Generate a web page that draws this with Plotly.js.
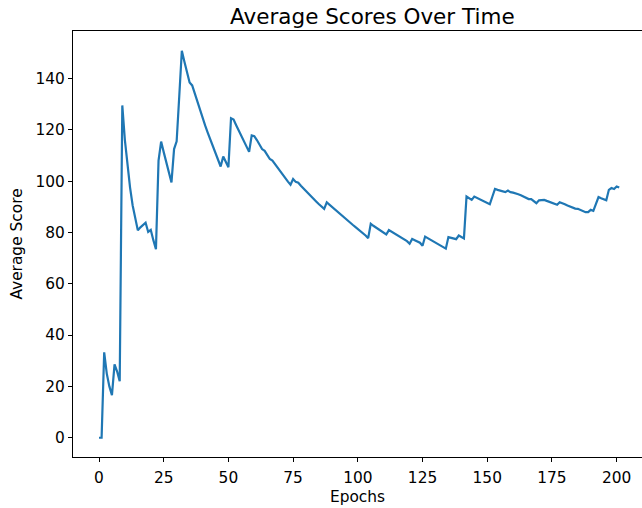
<!DOCTYPE html>
<html>
<head>
<meta charset="utf-8">
<script src="https://cdn.plot.ly/plotly-3.0.1.min.js"></script>
<style>html,body{margin:0;padding:0;background:#fff;}#chart{width:642px;height:508px;}</style>
</head>
<body>
<div id="chart"></div>
<script>
const epochs = [];
for (let i = 0; i <= 201; i++) epochs.push(i);
const scores = [
  0, 0, 33.3, 25, 20, 16.6, 28.6, 25.8, 22, 129.5,
  116, 106, 97.5, 90.5, 85, 80.8, 82, 83, 83.8, 80.2,
  81, 77, 73.5, 108, 115.4, 111.3, 107.3, 103.3, 99.5, 112.5,
  115.5, 133, 150.8, 146.5, 142.3, 138.4, 137.3, 134, 130.8, 127.6,
  124.6, 121.7, 118.9, 116.2, 113.5, 110.9, 108.3, 105.7, 109.6, 107.5,
  105.4, 124.5, 124, 121.8, 119.7, 117.6, 115.5, 113.4, 111.4, 117.8,
  117.5, 116, 114.5, 112.5, 111.8, 110.3, 108.6, 108, 106.6, 105.1,
  103.7, 102.3, 101, 99.8, 98.6, 100.8, 99.7, 99.4, 98.2, 97.1,
  96, 95, 94, 93, 92, 91, 90, 89.2, 91.7, 90.8,
  89.9, 89, 88.1, 87.2, 86.3, 85.5, 84.6, 83.8, 83, 82.2,
  81.4, 80.6, 79.8, 78.8, 77.8, 83.4, 82.6, 81.9, 81.2, 80.5,
  79.8, 79.2, 80.9, 80.3, 79.8, 79.2, 78.7, 78, 77.3, 76.6,
  75.6, 77.5, 77, 76.5, 76, 74.8, 78.4, 77.8, 77.2, 76.6,
  76.1, 75.6, 75, 74.4, 73.7, 78.2, 78, 77.8, 77.4, 78.8,
  78.3, 77.7, 94, 93.3, 92.7, 94, 93.5, 93, 92.4, 92.1,
  91.7, 91, 94, 97, 96.6, 96.3, 96, 95.7, 96.3, 95.7,
  95.5, 95.3, 94.9, 94.5, 94, 93.4, 93, 93, 92.3, 91.4,
  92.5, 92.7, 92.7, 92.3, 91.9, 91.7, 91.4, 90.8, 91.8, 91.5,
  91, 90.5, 90, 89.5, 89.3, 89.2, 88.8, 88.4, 87.9, 87.9,
  88.8, 88.4, 91.5, 93.8, 93.3, 92.8, 92.5, 96.6, 97.3, 96.9,
  97.9, 97.5
];
const xTicks = [0, 25, 50, 75, 100, 125, 150, 175, 200];
const yTicks = [0, 20, 40, 60, 80, 100, 120, 140];

const font = {family: 'DejaVu Sans, sans-serif', color: '#000'};
const trace = {
  x: epochs, y: scores, type: 'scatter', mode: 'lines',
  line: {color: '#1f77b4', width: 2.2}, hoverinfo: 'skip'
};
const axisCommon = {
  showgrid: false, zeroline: false, showline: true, mirror: true,
  linecolor: '#000', linewidth: 1, ticks: 'outside', ticklen: 4,
  tickwidth: 1, tickcolor: '#000', tickfont: Object.assign({size: 15.4}, font)
};
const layout = {
  width: 642, height: 508,
  margin: {l: 73, r: 0, t: 31, b: 51},
  paper_bgcolor: '#fff', plot_bgcolor: '#fff',
  showlegend: false,
  title: {text: 'Average Scores Over Time', font: Object.assign({size: 21.5}, font),
          xref: 'container', x: 0.58, xanchor: 'center', yref: 'container', y: 0.968, yanchor: 'middle'},
  xaxis: Object.assign({}, axisCommon, {
    range: [-10.05, 209.8], tickvals: xTicks, ticktext: xTicks.map(String),
    ticklabelstandoff: 3,
    title: {text: 'Epochs', font: Object.assign({size: 15.4}, font), standoff: 4}
  }),
  yaxis: Object.assign({}, axisCommon, {
    range: [-7.5, 158.5], tickvals: yTicks, ticktext: yTicks.map(String),
    title: {text: 'Average Score', font: Object.assign({size: 15.4}, font), standoff: 9}
  })
};
Plotly.newPlot('chart', [trace], layout, {displayModeBar: false, staticPlot: true});
</script>
</body>
</html>
